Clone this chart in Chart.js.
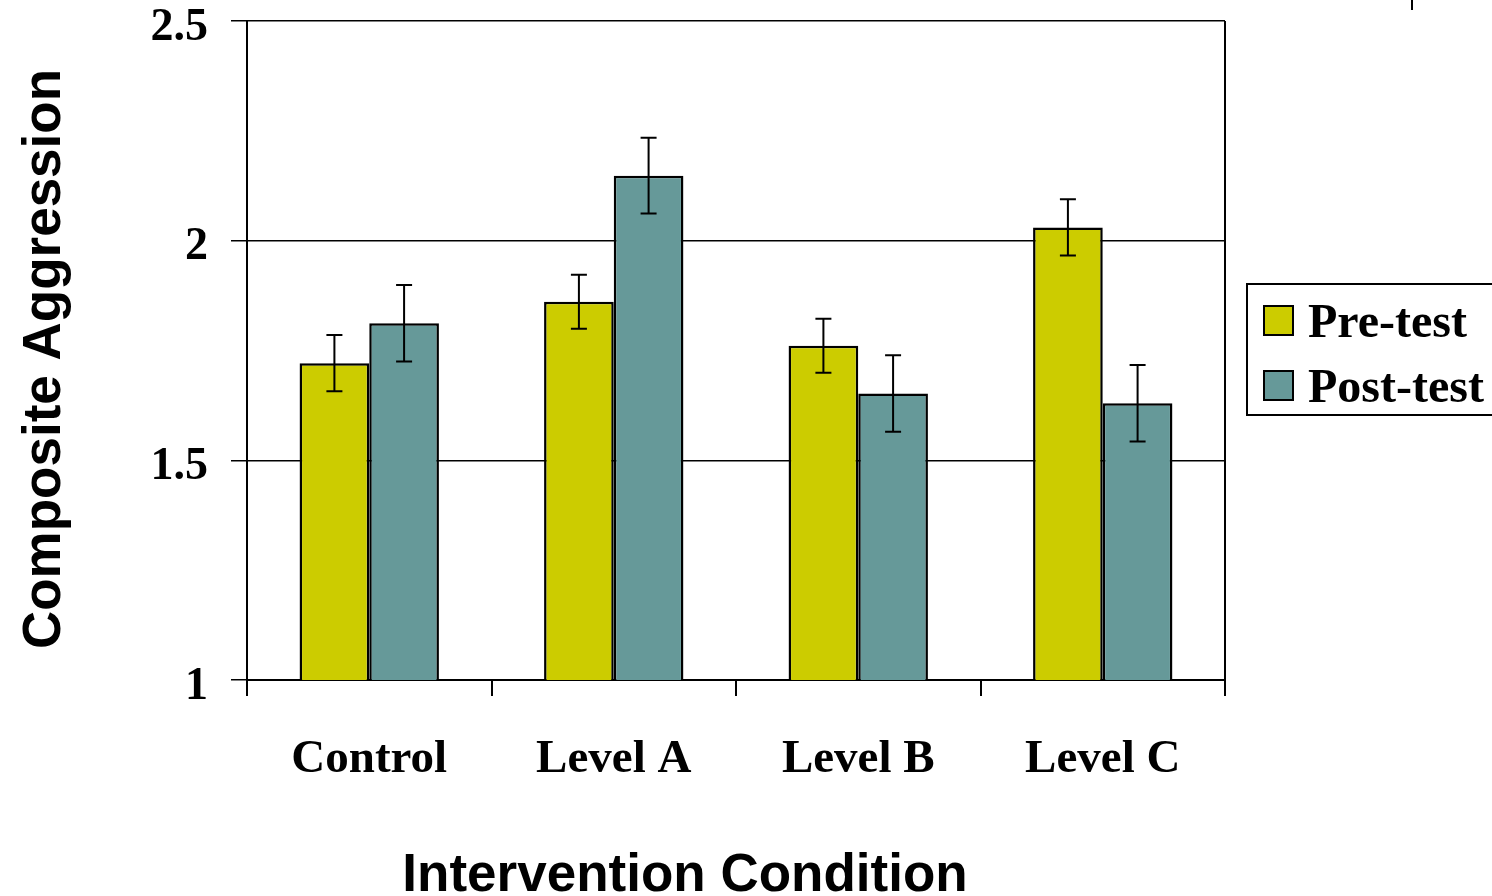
<!DOCTYPE html>
<html>
<head>
<meta charset="utf-8">
<script src="https://cdn.jsdelivr.net/npm/chart.js@4/dist/chart.umd.min.js"></script>
<style>
  html, body { margin: 0; padding: 0; background: #ffffff; }
  #wrap { width: 1492px; height: 896px; position: relative; }
</style>
</head>
<body>
<div id="wrap"><canvas id="chart"></canvas></div>
<script>
// Group means by intervention condition
const categories = ['Control', 'Level A', 'Level B', 'Level C'];
const preTest = [1.721, 1.861, 1.761, 2.030];
const postTest = [1.812, 2.148, 1.652, 1.630];
// Half-length of each error bar (same order as above)
const preTestErr = [0.064, 0.0615, 0.0615, 0.064];
const postTestErr = [0.087, 0.086, 0.087, 0.087];
const yTicks = [1, 1.5, 2, 2.5];

const SERIF = "'Liberation Serif', 'Times New Roman', serif";
const SANS = "'Liberation Sans', Arial, sans-serif";

// Vertical error bars with flat caps, drawn on top of the bars
const errorBars = {
  id: 'errorBars',
  afterDatasetsDraw(chart) {
    const ctx = chart.ctx;
    const y = chart.scales.y;
    ctx.save();
    ctx.strokeStyle = '#000';
    ctx.lineWidth = 2;
    chart.data.datasets.forEach((ds, i) => {
      const meta = chart.getDatasetMeta(i);
      meta.data.forEach((bar, j) => {
        const v = ds.data[j], e = ds.errors[j];
        const yTop = y.getPixelForValue(v + e);
        const yBot = y.getPixelForValue(v - e);
        const cap = 8;
        ctx.beginPath();
        ctx.moveTo(bar.x, yTop); ctx.lineTo(bar.x, yBot);
        ctx.moveTo(bar.x - cap, yTop); ctx.lineTo(bar.x + cap, yTop);
        ctx.moveTo(bar.x - cap, yBot); ctx.lineTo(bar.x + cap, yBot);
        ctx.stroke();
      });
    });
    ctx.restore();
  }
};

// Right frame line, axis titles and the boxed legend
const decorations = {
  id: 'decorations',
  afterDraw(chart) {
    const ctx = chart.ctx;
    const a = chart.chartArea;
    ctx.save();
    ctx.strokeStyle = '#000';
    ctx.lineWidth = 2;
    ctx.beginPath();
    ctx.moveTo(a.right, a.top);
    ctx.lineTo(a.right, a.bottom);
    ctx.stroke();

    // small mark at the top edge
    ctx.beginPath();
    ctx.moveTo(1412, 0);
    ctx.lineTo(1412, 10);
    ctx.stroke();

    // axis titles
    ctx.fillStyle = '#000';
    ctx.font = 'bold 53px ' + SANS;
    ctx.textAlign = 'center';
    ctx.textBaseline = 'alphabetic';
    ctx.fillText('Intervention Condition', 685, 891);
    ctx.save();
    ctx.translate(60, 359);
    ctx.rotate(-Math.PI / 2);
    ctx.fillText('Composite Aggression', 0, 0);
    ctx.restore();

    // legend
    const lx = 1247, ly = 284, lh = 131;
    ctx.lineWidth = 2;
    ctx.strokeRect(lx, ly, 300, lh);
    ctx.font = 'bold 48px ' + SERIF;
    ctx.textAlign = 'left';
    const rows = [306, 371];
    chart.data.datasets.forEach((ds, i) => {
      const ry = rows[i];
      ctx.fillStyle = ds.backgroundColor;
      ctx.fillRect(1264, ry, 29, 29);
      ctx.strokeStyle = '#000';
      ctx.strokeRect(1264, ry, 29, 29);
      ctx.fillStyle = '#000';
      ctx.fillText(ds.label, 1308, ry + 31);
    });
    ctx.restore();
  }
};

new Chart(document.getElementById('chart'), {
  type: 'bar',
  data: {
    labels: categories,
    datasets: [
      { label: 'Pre-test', data: preTest, errors: preTestErr,
        backgroundColor: '#CCCC00', borderColor: '#000', borderWidth: 2.5, borderSkipped: false },
      { label: 'Post-test', data: postTest, errors: postTestErr,
        backgroundColor: '#669999', borderColor: '#000', borderWidth: 2.5, borderSkipped: false }
    ]
  },
  options: {
    responsive: true,
    maintainAspectRatio: false,
    animation: false,
    devicePixelRatio: 1,
    layout: { padding: { left: 0, right: 267, top: 21, bottom: 0 } },
    datasets: { bar: { categoryPercentage: 0.57, barPercentage: 1.0 } },
    plugins: { legend: { display: false }, tooltip: { enabled: false } },
    scales: {
      x: {
        grid: { display: true, drawOnChartArea: false, offset: true, color: '#000', lineWidth: 2, tickLength: 16 },
        border: { display: true, color: '#000', width: 2 },
        ticks: { color: '#000', font: { family: SERIF, size: 47, weight: 'bold' }, padding: 36, maxRotation: 0 },
        afterFit(s) { s.height = 216; s.paddingLeft = 0; s.paddingRight = 0; }
      },
      y: {
        min: 1, max: 2.5,
        afterBuildTicks(s) { s.ticks = yTicks.map(v => ({ value: v })); },
        grid: { color: '#000', lineWidth: 1.5, tickLength: 16 },
        border: { display: true, color: '#000', width: 2 },
        ticks: {
          color: '#000', font: { family: SERIF, size: 46, weight: 'bold', lineHeight: 0.3 }, padding: 23,
          // empty first line nudges each value slightly below its gridline
          callback: v => ['', String(v)]
        },
        afterFit(s) { s.width = 247; s.paddingTop = 0; s.paddingBottom = 0; }
      }
    }
  },
  plugins: [errorBars, decorations]
});
</script>
</body>
</html>
